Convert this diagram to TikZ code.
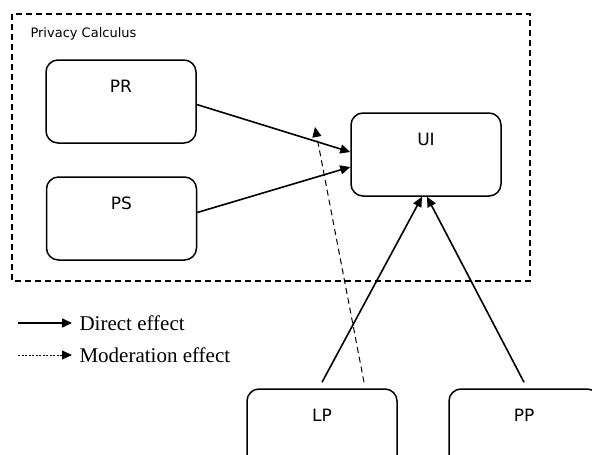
\documentclass[tikz,border=0pt]{standalone}
\usepackage{fontspec}
\setmainfont{Liberation Serif}
\newfontfamily\boxfont{DejaVu Sans}
\usetikzlibrary{arrows.meta}

\tikzset{
	factor/.style={draw, line width=1.5pt, rounded corners=12pt, minimum width=150pt, inner sep=0pt,
		text height=32pt, text depth=51pt, font=\boxfont\fontsize{17}{20}\selectfont},
	effect/.style={line width=1.6pt, arrows={-Triangle[length=10pt, width=9pt]}},
	legend/.style={anchor=west, font=\fontsize{21}{24}\selectfont}
}

\begin{document}
\begin{tikzpicture}[x=1pt, y=-1pt]
	\useasboundingbox (0,0) rectangle (592,455);
	\draw [line width=1.4pt, dash pattern=on 6pt off 4pt] (12,14) rectangle (530,281);
	\node [anchor=west, font=\boxfont\fontsize{13}{15}\selectfont] (calc) at (27,34) {Privacy Calculus};
	\node [factor] (PR) at (121,101.5) {PR};
	\node [factor] (PS) at (121.5,218.5) {PS};
	\node [factor] (UI) at (426,154.5) {UI};
	\node [factor] (LP) at (322,430.5) {LP};
	\node [factor] (PP) at (524,430.5) {PP};
	\coordinate (modtip) at (315,127);
	\draw [effect] ([yshift=-3pt]PR.east) -- ([yshift=2.5pt]UI.west);
	\draw [effect] ([yshift=6pt]PS.east) -- ([yshift=-12.5pt]UI.west);
	\draw [effect] ([yshift=6pt]LP.north) -- ([xshift=-4pt]UI.south);
	\draw [effect] ([yshift=6pt]PP.north) -- ([xshift=1pt]UI.south);
	\draw [effect, line width=1pt, dash pattern=on 6pt off 4pt] ([xshift=42pt, yshift=6pt]LP.north) -- (modtip);
	\node [legend] (direct) at (76,323) {Direct effect};
	\node [legend] (moder) at (76,355) {Moderation effect};
	\coordinate (d0) at (18,323);
	\coordinate (m0) at (18,355);
	\draw [effect, shorten >=4pt] (d0) -- (direct.west);
	\draw [effect, line width=1pt, dash pattern=on 2pt off 1.5pt, shorten >=4pt] (m0) -- (moder.west);
\end{tikzpicture}
\end{document}
